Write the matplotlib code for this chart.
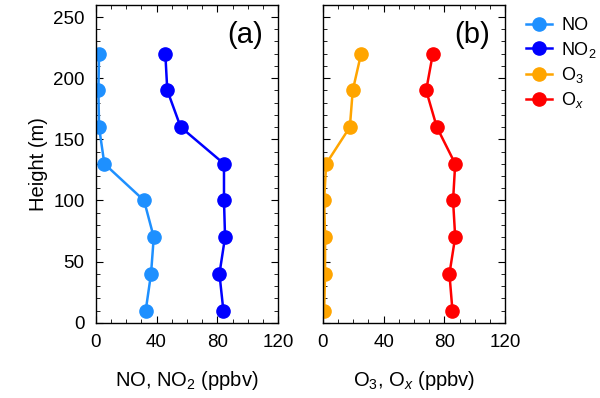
import matplotlib.pyplot as plt
from matplotlib.ticker import MultipleLocator

plt.rcParams['font.family'] = ['Liberation Sans', 'DejaVu Sans']
plt.rcParams['mathtext.fontset'] = 'custom'
plt.rcParams['mathtext.rm'] = 'Liberation Sans'
plt.rcParams['mathtext.it'] = 'Liberation Sans:italic'

# heights (m)
height = [10, 40, 70, 100, 130, 160, 190, 220]

# mixing ratios (ppbv)
no = [32.9, 36.4, 38.2, 31.8, 5.7, 2.2, 1.8, 2.2]
no2 = [84.0, 81.4, 85.1, 84.4, 84.4, 55.9, 47.1, 45.8]
o3 = [0.9, 1.5, 1.5, 0.9, 2.2, 17.8, 19.7, 25.2]
ox = [85.3, 83.3, 87.1, 85.7, 87.1, 75.0, 68.0, 72.4]

c_no = '#1E90FF'
c_no2 = '#0000FF'
c_o3 = '#FFA500'
c_ox = '#FF0000'

fig = plt.figure(figsize=(6, 3.98), dpi=100)
ax1 = fig.add_axes([0.1595, 0.189, 0.304, 0.799])
ax2 = fig.add_axes([0.538, 0.189, 0.304, 0.799])

kw = dict(marker='o', markersize=9.5, linewidth=1.8)
l1, = ax1.plot(no, height, color=c_no, label='NO', **kw)
l2, = ax1.plot(no2, height, color=c_no2, label='NO$_2$', **kw)
l3, = ax2.plot(o3, height, color=c_o3, label='O$_3$', **kw)
l4, = ax2.plot(ox, height, color=c_ox, label='O$_{x}$', **kw)

for ax in (ax1, ax2):
    ax.set_xlim(0, 120)
    ax.set_ylim(0, 260)
    ax.xaxis.set_major_locator(MultipleLocator(40))
    ax.xaxis.set_minor_locator(MultipleLocator(10))
    ax.yaxis.set_major_locator(MultipleLocator(50))
    ax.yaxis.set_minor_locator(MultipleLocator(10))
    ax.tick_params(which='both', direction='in', top=True, right=True, labelsize=13.5)
    ax.tick_params(which='major', length=5, pad=8)
    ax.tick_params(which='minor', length=3)
    for s in ax.spines.values():
        s.set_linewidth(1)

ax2.tick_params(labelleft=False)
ax1.set_ylabel('Height (m)', fontsize=14.5, labelpad=4)
ax1.set_xlabel('NO, NO$_2$ (ppbv)', fontsize=14.5, labelpad=13)
ax2.set_xlabel('O$_3$, O$_x$ (ppbv)', fontsize=14.5, labelpad=13)

ax1.text(0.82, 0.905, '(a)', transform=ax1.transAxes, fontsize=21, ha='center', va='center')
ax2.text(0.82, 0.905, '(b)', transform=ax2.transAxes, fontsize=21, ha='center', va='center')

fig.legend(handles=[l1, l2, l3, l4], loc='upper left', bbox_to_anchor=(0.865, 0.975),
           frameon=False, fontsize=13, handlelength=1.4, handletextpad=0.55,
           labelspacing=0.3, borderaxespad=0)

fig.savefig('out.png', dpi=100)
